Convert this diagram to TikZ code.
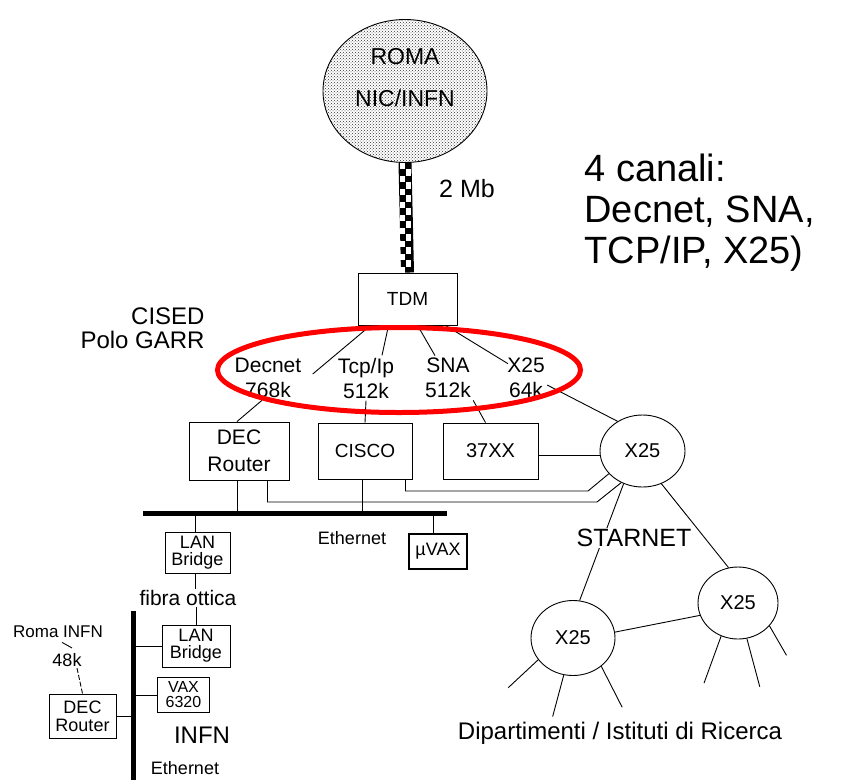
\documentclass[tikz,border=0pt]{standalone}
\usepackage{fontspec}
\setmainfont{Liberation Sans}
\usetikzlibrary{shapes.geometric,patterns}
\newcommand{\fsz}[2]{\fontsize{#1}{#2}\selectfont}

\begin{document}
\begin{tikzpicture}[
  x=1pt, y=-1pt,
  line width=0.9pt,
  box/.style={draw,rectangle,inner sep=0pt,align=center},
  hbox/.style={box,line width=1.8pt},
  xnode/.style={draw,ellipse,inner sep=0pt,font=\fsz{20}{22}},
  chan/.style={align=center,inner sep=2pt,font=\fsz{21}{25}},
  lbl/.style={inner sep=1pt,align=center},
  bus/.style={line width=5pt}
]
  \useasboundingbox (0,0) rectangle (846,780);
  \node[draw,ellipse,minimum width=164pt,minimum height=143pt,inner sep=0pt,pattern=crosshatch dots,pattern color=black!80] (roma) at (405,91) {};
  \node[lbl,font=\fsz{23}{42}] (romatxt) at (405,78) {ROMA\\NIC/INFN};
  \node[box,minimum width=99pt,minimum height=52pt,font=\fsz{19}{22}] (tdm) at (407.5,299) {TDM};
  \node[lbl,font=\fsz{25}{28}] (mb) at (467,189) {2 Mb};
  \node[lbl,anchor=east,align=right,font=\fsz{24}{24}] (cised) at (206,328) {CISED\\Polo GARR};
  \node[lbl,anchor=west,inner sep=0pt,align=left,font=\fsz{38}{41}] (canali) at (584,213) {4 canali:\\Decnet, SNA,\\TCP/IP, X25)};
  \node[chan] (decl) at (268,378) {Decnet\\768k};
  \node[chan] (tcpl) at (366,378) {Tcp/Ip\\512k};
  \node[chan] (snal) at (448,378) {SNA\\512k};
  \node[chan] (x25l) at (526,378) {X25\\64k};
  \node[box,minimum width=100pt,minimum height=58pt,font=\fsz{21}{27}] (decr) at (239,451) {DEC\\Router};
  \node[box,minimum width=94pt,minimum height=56pt,font=\fsz{19}{22}] (cisco) at (365,451) {CISCO};
  \node[box,minimum width=95pt,minimum height=56pt,font=\fsz{20}{22}] (b37) at (490.5,451) {37XX};
  \node[xnode,minimum width=85pt,minimum height=72pt] (xtop) at (642.5,451) {X25};
  \node[xnode,minimum width=84pt,minimum height=75pt] (xll) at (573,638) {X25};
  \node[xnode,minimum width=80pt,minimum height=72pt] (xright) at (738,603) {X25};
  \node[box,minimum width=65pt,minimum height=41pt,font=\fsz{18}{17}] (lanA) at (197.5,552.5) {LAN\\Bridge};
  \node[hbox,minimum width=58pt,minimum height=35pt,font=\fsz{18}{20}] (muvax) at (438,551.5) {µVAX};
  \node[lbl,font=\fsz{18}{20}] (eth1) at (352,538) {Ethernet};
  \node[lbl,font=\fsz{21}{22}] (fibra) at (188,598) {fibra ottica};
  \node[box,minimum width=68pt,minimum height=42pt,font=\fsz{18}{17}] (lanB) at (196,646) {LAN\\Bridge};
  \node[hbox,minimum width=52pt,minimum height=35pt,font=\fsz{16}{15}] (vax) at (183.5,695) {VAX\\6320};
  \node[box,minimum width=67pt,minimum height=44pt,font=\fsz{18}{18}] (decr2) at (82.5,716) {DEC\\Router};
  \node[lbl,font=\fsz{24}{28}] (infn) at (202,735) {INFN};
  \node[lbl,font=\fsz{18}{20}] (eth2) at (185,768) {Ethernet};
  \node[lbl,font=\fsz{17}{20}] (romal) at (58,632) {Roma INFN};
  \node[lbl,font=\fsz{18}{20}] (k48) at (67,660) {48k};
  \node[lbl,font=\fsz{24}{26}] (dip) at (620,733) {Dipartimenti / Istituti di Ricerca};
  \coordinate (cbend) at (588,491);
  \coordinate (dbend) at (597,502);
  \coordinate (busL) at (143,513);
  \coordinate (busR) at (447,513);
  \coordinate (vbT) at (133,611);
  \coordinate (vbB) at (133,780);
  \draw[line width=13pt] (roma.south) -- (tdm.north);
  \foreach \i in {0,...,16} {
    \pgfmathsetmacro{\dx}{ifthenelse(mod(\i,2)==0,-5.5,0.5)}
    \fill[white] ([shift={(\dx pt,-\i*6.5pt)}]roma.south) rectangle ++(5pt,-6.5pt);
  }
  \draw ([xshift=13pt]tdm.south west) -- ([xshift=9pt,yshift=4pt]decl.east);
  \draw ([xshift=31pt]tdm.south west) -- ([xshift=16pt]tcpl.north);
  \draw ([xshift=60pt]tdm.south west) -- ([xshift=-13pt]snal.north);
  \draw ([xshift=88pt]tdm.south west) -- ([xshift=3pt,yshift=-8pt]x25l.north west);
  \draw ([xshift=-6pt]decl.south) -- ([xshift=-2pt]decr.north);
  \draw (tcpl.south) -- (cisco.north);
  \draw (snal.south east) -- ([xshift=-5pt]b37.north);
  \draw ([yshift=-7pt]x25l.east) -- (xtop.130);
  \draw ([yshift=-4pt]b37.east) -- ([yshift=-4pt]xtop.west);
  \draw ([xshift=-7pt]cisco.south east) |- (cbend) -- (xtop.214);
  \draw ([xshift=-22pt]decr.south east) |- (dbend) -- (xtop.236);
  \draw[bus] (busL) -- (busR);
  \draw ([xshift=-2pt]decr.south) -- ([xshift=-2pt]decr.south |- busL);
  \draw ([xshift=-3pt]cisco.south) -- ([xshift=-3pt]cisco.south |- busL);
  \draw ([xshift=-2.5pt]lanA.north) -- ([xshift=-2.5pt]lanA.north |- busL);
  \draw ([xshift=-5pt]muvax.north) -- ([xshift=-5pt]muvax.north |- busL);
  \draw ([xshift=-2.5pt]lanA.south) -- ([xshift=-2.5pt]lanA.south |- fibra.north);
  \draw (lanB.north) -- (lanB.north |- fibra.south);
  \draw[bus] (vbT) -- (vbB);
  \draw (lanB.west) -- (vbT |- lanB.west);
  \draw (vax.west) -- (vbT |- vax.west);
  \draw (decr2.east) -- (vbT |- decr2.east);
  \draw ([xshift=4pt,yshift=-3pt]romal.south) -- ([xshift=5pt,yshift=4pt]k48.north);
  \draw[dash pattern=on 5pt off 2pt] ([xshift=10pt]k48.south) -- (decr2.north);
  \draw (xtop.240) -- (xll.80);
  \draw (xtop.300) -- (xright.105);
  \draw (xll.8) -- (xright.198);
  \foreach \a/\d/\l in {212/223/41, 256/255/43, 315/297/46}
    \draw (xll.\a) -- ++(\d:\l pt);
  \foreach \a/\d/\l in {243/250/50, 284/285/50, 324/300/34}
    \draw (xright.\a) -- ++(\d:\l pt);
  \node[lbl,fill=white,font=\fsz{25}{28}] (starnet) at (634,538) {STARNET};
  \node[draw=red,line width=5pt,ellipse,minimum width=363pt,minimum height=85pt,inner sep=0pt] (hilite) at (399,370) {};
\end{tikzpicture}
\end{document}
